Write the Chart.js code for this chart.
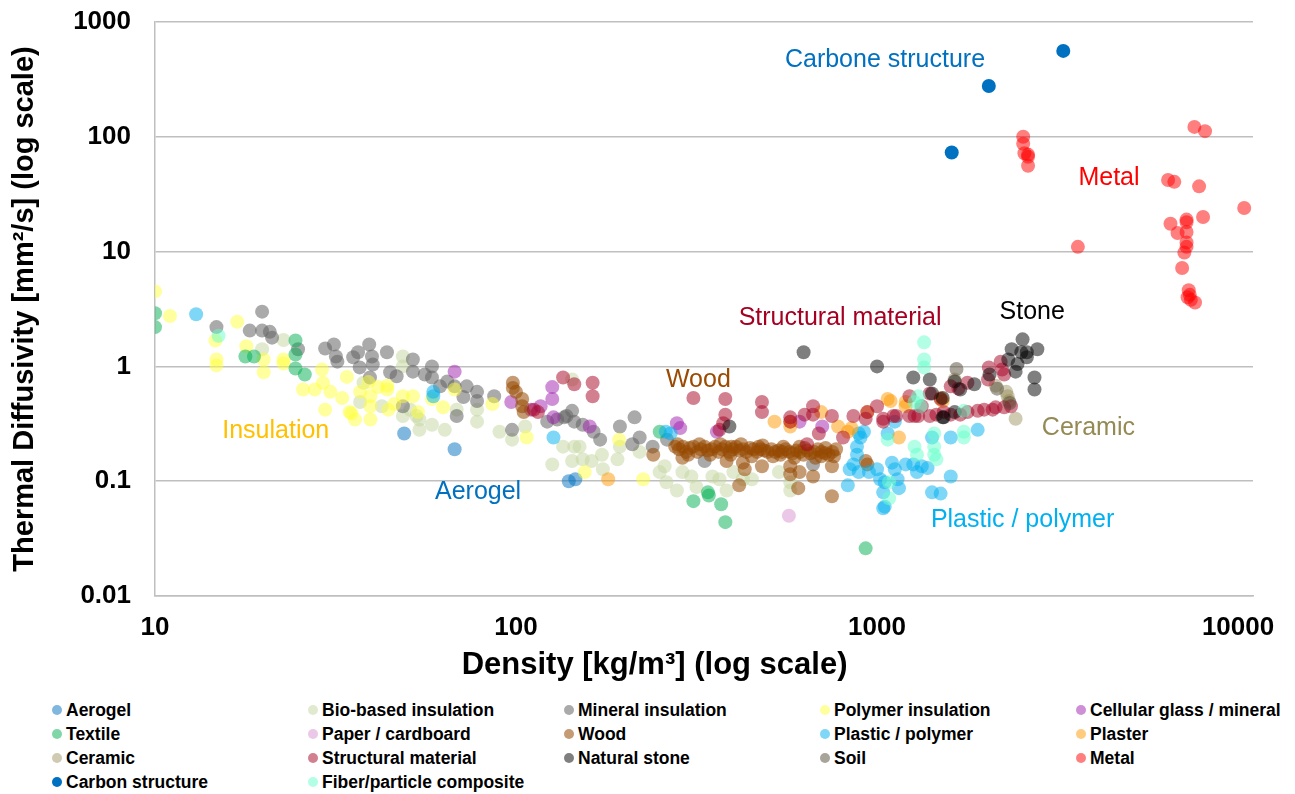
<!DOCTYPE html>
<html lang="en">
<head>
<meta charset="UTF-8">
<title>Thermal diffusivity vs density</title>
<script src="https://cdn.jsdelivr.net/npm/chart.js"></script>
<style>
  body { margin: 0; background: #fff; font-family: "Liberation Sans", Arial, sans-serif; }
  .wrap { position: relative; width: 1295px; height: 794px; }
  .plot { position: absolute; left: 0; top: 0; width: 1295px; height: 690px; }
  .legend {
    position: absolute; left: 52px; top: 698px;
    display: grid; grid-template-columns: repeat(5, 256px); grid-auto-rows: 24px;
  }
  .legend .item { display: flex; align-items: center; font-weight: bold; font-size: 17.5px; color: #000; white-space: nowrap; }
  .legend .dot { width: 10px; height: 10px; border-radius: 50%; margin-right: 4px; flex: none; }
</style>
</head>
<body>
<div class="wrap">
  <div class="plot"><canvas id="chart"></canvas></div>
  <div class="legend" id="legend"></div>
</div>
<script>
// [density kg/m3, thermal diffusivity mm2/s]
const aerogel = [[49, 0.26], [67.6, 0.19], [140, 0.1], [146, 0.104]];

const bioInsulation = [
  [22.7, 1.7], [19.8, 1.41], [48.6, 1.22], [48.6, 1.0], [37, 0.49], [50.9, 0.42], [53, 0.37], [54, 0.28],
  [58.5, 0.31], [63.5, 0.28], [68.5, 0.42], [78, 0.42], [78, 0.33], [90, 0.27], [97.5, 0.23], [106, 0.3],
  [48.6, 0.37], [42.5, 0.45], [37.8, 0.72], [54, 0.345], [126, 0.14], [135, 0.2], [145, 0.2], [150, 0.2],
  [143, 0.15], [153, 0.155], [162, 0.15], [173, 0.17], [174, 0.127], [191, 0.155], [194, 0.2], [220, 0.18],
  [250, 0.12], [258, 0.135], [261, 0.098], [279, 0.083], [289, 0.12], [306, 0.11], [316, 0.089], [350, 0.11],
  [366, 0.104], [383, 0.083], [400, 0.12], [425, 0.104], [450, 0.104], [143, 0.77], [535, 0.12], [575, 0.098],
  [575, 0.083]
];

const mineralInsulation = [
  [19.8, 3.0], [14.8, 2.2], [18.3, 2.05], [19.8, 2.05], [20.8, 2.0], [21.1, 1.78], [24.9, 1.41], [29.6, 1.43],
  [31.3, 1.55], [31.7, 1.22], [32, 1.1], [35.4, 1.2], [36.5, 1.33], [39.2, 1.55], [39.9, 1.22], [40.1, 1.04],
  [43.9, 1.33], [36.9, 0.98], [44.8, 0.89], [46.7, 0.82], [51.8, 1.15], [51.8, 0.9], [55.9, 0.85], [58.5, 1.0],
  [58.5, 0.8], [61.6, 0.67], [64.5, 0.74], [67.6, 0.67], [71.5, 0.54], [73, 0.67], [78, 0.6], [78, 0.5],
  [87, 0.55], [97.5, 0.28], [68.5, 0.37], [48.6, 0.45], [39.4, 0.8], [122, 0.33], [130, 0.345], [138, 0.37],
  [143, 0.41], [145, 0.33], [136, 0.36], [153, 0.31], [164, 0.27], [171, 0.23], [194, 0.3], [213, 0.36],
  [220, 0.24], [210, 0.21], [239, 0.2], [262, 0.23], [333, 0.15], [665, 0.14]
];

const polymerInsulation = [
  [10, 4.5], [11, 2.75], [14.7, 1.68], [14.8, 1.15], [14.8, 1.02], [16.9, 2.45], [17.9, 1.5], [20, 1.15],
  [20, 0.89], [22.7, 1.15], [22.7, 1.06], [25.7, 0.63], [27.7, 0.63], [29, 0.94], [29.2, 0.72], [29.6, 0.42],
  [30.6, 0.6], [33, 0.53], [34, 0.81], [34.6, 0.4], [37, 0.6], [39, 0.73], [39.5, 0.55], [39.5, 0.45],
  [39.5, 0.345], [41.5, 0.66], [44, 0.63], [44.3, 0.42], [48.6, 0.55], [51.8, 0.55], [53.5, 0.4], [58.5, 0.52],
  [62.8, 0.44], [67.6, 0.63], [86, 0.47], [107, 0.24], [155, 0.12], [193, 0.23], [225, 0.104], [35.8, 0.345],
  [46, 0.47], [35, 0.39], [44, 0.68]
];

const cellularGlass = [
  [67.6, 0.9], [97, 0.49], [126, 0.66], [126, 0.52], [117, 0.45], [127, 0.36], [110, 0.42], [160, 0.3],
  [279, 0.32], [285, 0.29], [360, 0.27], [610, 0.33], [705, 0.3]
];

const textile = [
  [10, 2.9], [10, 2.2], [17.8, 1.22], [18.8, 1.22], [24.5, 1.68], [24.5, 1.27], [24.5, 0.96], [26, 0.85],
  [250, 0.27], [310, 0.067], [340, 0.08], [342, 0.075], [370, 0.063], [380, 0.044], [930, 0.026]
];

const paper = [[570, 0.05]];

const wood = [
  [98, 0.72], [98, 0.65], [100, 0.6], [104, 0.52], [104, 0.45], [105, 0.4],
  [240, 0.17], [289, 0.16], [383, 0.15], [425, 0.145], [430, 0.127], [415, 0.092], [480, 0.135], [575, 0.135],
  [575, 0.115], [610, 0.12], [605, 0.087], [665, 0.11], [750, 0.135], [750, 0.074], [930, 0.15], [940, 0.14],
  [276, 0.2], [283, 0.19], [290, 0.2], [296, 0.18], [303, 0.195], [310, 0.2], [318, 0.18], [325, 0.19],
  [333, 0.2], [340, 0.185], [348, 0.19], [356, 0.2], [364, 0.18], [372, 0.19], [380, 0.2], [390, 0.18],
  [398, 0.19], [407, 0.2], [416, 0.185], [425, 0.19], [435, 0.18], [445, 0.195], [455, 0.19], [465, 0.18],
  [476, 0.19], [487, 0.185], [498, 0.18], [510, 0.19], [522, 0.18], [534, 0.185], [546, 0.18], [558, 0.19],
  [571, 0.18], [584, 0.175], [598, 0.185], [612, 0.18], [626, 0.17], [640, 0.185], [655, 0.175], [670, 0.18],
  [686, 0.19], [702, 0.18], [718, 0.175], [735, 0.17], [752, 0.18], [770, 0.19],
  [280, 0.21], [300, 0.17], [322, 0.21], [345, 0.17], [368, 0.21], [393, 0.17], [420, 0.21], [450, 0.165],
  [482, 0.205], [515, 0.165], [550, 0.2], [590, 0.16], [630, 0.195], [675, 0.16], [720, 0.195], [760, 0.165],
  [395, 0.2], [470, 0.2], [540, 0.17], [610, 0.2], [700, 0.165]
];

const plastic = [
  [13, 2.85], [59, 0.6], [59, 0.55], [127, 0.24], [260, 0.27], [268, 0.26], [890, 0.26], [900, 0.24],
  [920, 0.27], [880, 0.2], [880, 0.17], [860, 0.14], [840, 0.127], [830, 0.092], [890, 0.12], [950, 0.12],
  [1000, 0.127], [1020, 0.104], [1050, 0.098], [1040, 0.08], [1050, 0.06], [1100, 0.145], [1120, 0.127],
  [1140, 0.104], [1150, 0.087], [1070, 0.26], [1120, 0.33], [1420, 0.24], [1420, 0.08], [1200, 0.14],
  [1260, 0.14], [1290, 0.12], [1330, 0.135], [1600, 0.24], [1600, 0.11], [1900, 0.28], [1500, 0.078],
  [1040, 0.058], [1380, 0.13]
];

const plaster = [
  [180, 0.104], [520, 0.33], [575, 0.33], [575, 0.3], [700, 0.4], [780, 0.3], [830, 0.27], [850, 0.29],
  [940, 0.4], [1070, 0.52], [1090, 0.5], [1200, 0.49], [1200, 0.45], [1150, 0.24], [1500, 0.53], [1520, 0.5]
];

const ceramic = [[1640, 0.77], [2300, 0.55], [2320, 0.5], [2420, 0.35], [2130, 0.68], [2280, 0.6]];

const structural = [
  [135, 0.8], [145, 0.7], [163, 0.72], [163, 0.55], [112, 0.42], [115, 0.4], [310, 0.53], [380, 0.52],
  [380, 0.38], [366, 0.28], [375, 0.32], [480, 0.49], [480, 0.4], [575, 0.36], [575, 0.33], [630, 0.38],
  [665, 0.45], [665, 0.38], [750, 0.37], [690, 0.26], [640, 0.21], [805, 0.24], [860, 0.37], [940, 0.4],
  [1000, 0.45], [1040, 0.33], [1110, 0.37], [1230, 0.55], [1270, 0.37], [1330, 0.45], [1040, 0.35],
  [1230, 0.37], [1300, 0.37], [1400, 0.37], [1400, 0.58], [1500, 0.52], [1600, 0.67], [1680, 0.64],
  [1780, 0.72], [1780, 0.4], [1900, 0.41], [1980, 0.42], [2030, 0.77], [2090, 0.42], [2040, 0.98],
  [2130, 0.44], [2200, 1.1], [2220, 0.94], [2250, 0.44], [2250, 0.85], [930, 0.35], [1600, 0.38],
  [1700, 0.38], [1130, 0.37], [1530, 0.4], [1460, 0.38], [2350, 0.45]
];

const naturalStone = [
  [626, 1.33], [1000, 1.0], [1260, 0.8], [1400, 0.77], [1420, 0.58], [1520, 0.53], [1520, 0.36], [2530, 1.72],
  [2360, 1.41], [2510, 1.33], [2600, 1.33], [2780, 1.41], [2420, 0.9], [2310, 1.15], [2730, 0.8], [2730, 0.63],
  [1640, 0.74], [1700, 0.63], [1860, 0.7], [1640, 0.4], [1530, 0.36], [2050, 0.85], [390, 0.3], [2600, 1.2],
  [2450, 1.05]
];

const soil = [[1660, 0.95], [2330, 0.48], [2150, 0.64]];

const metal = [
  [2540, 100], [2540, 87], [2560, 72], [2620, 67], [2620, 70], [2620, 56], [3600, 11], [7570, 122], [8100, 112],
  [6400, 42], [6660, 40.5], [7800, 37], [10400, 24], [8000, 20], [7200, 19], [7200, 18], [6500, 17.5],
  [6800, 14.5], [7200, 14.8], [7200, 12], [7200, 11], [7100, 9.8], [7000, 7.2], [7300, 4.6], [7350, 4.2],
  [7250, 4.0], [7400, 3.8], [7600, 3.6]
];

const carbonStructure = [[1610, 73], [2040, 277], [3280, 560]];

const fiberComposite = [
  [15, 1.85], [1350, 1.62], [1350, 1.15], [1350, 0.98], [1270, 0.49], [1270, 0.2], [1290, 0.17], [1080, 0.071],
  [1080, 0.098], [1070, 0.23], [1440, 0.2], [1440, 0.17], [1440, 0.26], [1460, 0.155], [1740, 0.41],
  [1740, 0.27], [1740, 0.24], [1300, 0.55], [1320, 0.45]
];

const xTicks = [10, 100, 1000, 10000];
const yTicks = [0.01, 0.1, 1, 10, 100, 1000];

// text labels placed in data space
const noteText = ['Carbone structure', 'Metal', 'Structural material', 'Stone', 'Wood', 'Ceramic', 'Insulation', 'Aerogel', 'Plastic / polymer'];
const noteX = [1052, 4390, 790, 2690, 320, 3850, 21.6, 78.5, 2530];
const noteY = [467, 43.8, 2.65, 2.97, 0.76, 0.29, 0.275, 0.081, 0.046];
const noteColor = ['#0070C0', '#FF0000', '#A50021', '#000000', '#9C4A00', '#948A54', '#FFC000', '#0070C0', '#00B0F0'];

const groups = [
  { label: 'Aerogel', data: aerogel, color: 'rgba(0,112,192,0.5)' },
  { label: 'Bio-based insulation', data: bioInsulation, color: 'rgba(196,214,160,0.5)' },
  { label: 'Mineral insulation', data: mineralInsulation, color: 'rgba(100,100,100,0.55)' },
  { label: 'Polymer insulation', data: polymerInsulation, color: 'rgba(255,255,60,0.5)' },
  { label: 'Cellular glass / mineral', data: cellularGlass, color: 'rgba(160,32,176,0.5)' },
  { label: 'Textile', data: textile, color: 'rgba(0,176,80,0.5)' },
  { label: 'Paper / cardboard', data: paper, color: 'rgba(216,145,208,0.5)' },
  { label: 'Wood', data: wood, color: 'rgba(150,72,0,0.55)' },
  { label: 'Plastic / polymer', data: plastic, color: 'rgba(0,176,240,0.5)' },
  { label: 'Plaster', data: plaster, color: 'rgba(255,153,0,0.5)' },
  { label: 'Ceramic', data: ceramic, color: 'rgba(148,138,84,0.45)' },
  { label: 'Structural material', data: structural, color: 'rgba(165,0,33,0.5)' },
  { label: 'Natural stone', data: naturalStone, color: 'rgba(0,0,0,0.5)' },
  { label: 'Soil', data: soil, color: 'rgba(82,74,54,0.5)' },
  { label: 'Metal', data: metal, color: 'rgba(255,0,0,0.5)' },
  { label: 'Carbon structure', data: carbonStructure, color: 'rgb(0,112,192)' },
  { label: 'Fiber/particle composite', data: fiberComposite, color: 'rgba(102,255,204,0.5)' }
];

const FONT = '"Liberation Sans", Arial, sans-serif';

const notes = {
  id: 'notes',
  afterDatasetsDraw(chart) {
    const { ctx, scales: { x, y }, chartArea } = chart;
    ctx.save();
    ctx.textAlign = 'center';
    ctx.textBaseline = 'middle';
    ctx.font = '25px ' + FONT;
    noteText.forEach((t, i) => {
      ctx.fillStyle = noteColor[i];
      ctx.fillText(t, x.getPixelForValue(noteX[i]), y.getPixelForValue(noteY[i]));
    });
    // x axis title, sits a bit left of the plot centre like the original
    ctx.fillStyle = '#000';
    ctx.font = 'bold 31px ' + FONT;
    ctx.fillText('Density [kg/m³] (log scale)', chartArea.left + (chartArea.right - chartArea.left) * 0.455, 665);
    ctx.restore();
  }
};

new Chart(document.getElementById('chart'), {
  type: 'scatter',
  data: {
    datasets: groups.map((g, i) => ({
      label: g.label,
      data: g.data.map(p => ({ x: p[0], y: p[1] })),
      backgroundColor: g.color,
      borderWidth: 0,
      pointRadius: 7,
      pointHoverRadius: 7,
      order: groups.length - i
    }))
  },
  options: {
    responsive: true,
    maintainAspectRatio: false,
    animation: false,
    events: [],
    layout: { padding: { top: 22, right: 42, left: 0, bottom: 0 } },
    plugins: { legend: { display: false }, tooltip: { enabled: false } },
    scales: {
      x: {
        type: 'logarithmic',
        min: 10,
        max: 11000,
        afterBuildTicks: s => { s.ticks = xTicks.map(v => ({ value: v })); },
        afterFit: s => { s.height = 94; s.paddingLeft = 0; s.paddingRight = 0; },
        ticks: {
          callback: v => String(v),
          autoSkip: false, maxRotation: 0, padding: 16, color: '#000',
          font: { family: FONT, size: 26, weight: 'bold' }
        },
        grid: { display: false, drawTicks: false },
        border: { display: true, color: '#bfbfbf', width: 1.5 }
      },
      y: {
        type: 'logarithmic',
        min: 0.01,
        max: 1000,
        afterBuildTicks: s => { s.ticks = yTicks.map(v => ({ value: v })); },
        afterFit: s => { s.width = 155; s.paddingTop = 0; s.paddingBottom = 0; },
        ticks: {
          callback: v => String(v),
          autoSkip: false, padding: 24, color: '#000',
          font: { family: FONT, size: 26, weight: 'bold' }
        },
        grid: { color: '#bfbfbf', lineWidth: 1.5, drawTicks: false },
        border: { display: true, color: '#bfbfbf', width: 1.5 },
        title: {
          display: true,
          text: 'Thermal Diffusivity [mm²/s] (log scale)',
          color: '#000',
          padding: { top: 8, bottom: 0 },
          font: { family: FONT, size: 29, weight: 'bold' }
        }
      }
    }
  },
  plugins: [notes]
});

const legendBox = document.getElementById('legend');
groups.forEach(g => {
  const item = document.createElement('div');
  item.className = 'item';
  const dot = document.createElement('span');
  dot.className = 'dot';
  dot.style.background = g.color;
  item.appendChild(dot);
  item.appendChild(document.createTextNode(g.label));
  legendBox.appendChild(item);
});
</script>
</body>
</html>
